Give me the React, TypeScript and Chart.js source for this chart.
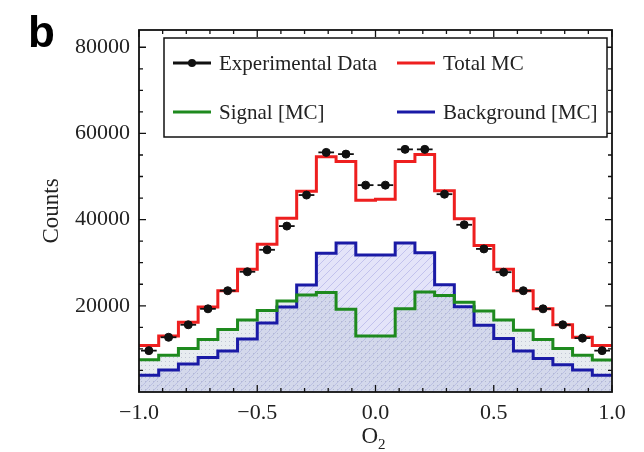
import React, { useEffect, useRef } from 'react';
import { Chart, registerables } from 'chart.js';
Chart.register(...registerables);

// 24 bins over O2 in [-1, 1]
const binEdges = [
  -1, -0.9167, -0.8333, -0.75, -0.6667, -0.5833, -0.5, -0.4167, -0.3333, -0.25, -0.1667, -0.0833,
  0, 0.0833, 0.1667, 0.25, 0.3333, 0.4167, 0.5, 0.5833, 0.6667, 0.75, 0.8333, 0.9167, 1,
];
const experimentalData = [9600, 12700, 15600, 19300, 23500, 27900, 33000, 38500, 45700, 55600, 55200, 48000,
  48000, 56300, 56300, 45900, 38800, 33200, 27800, 23500, 19300, 15600, 12500, 9600];
const totalMC = [10800, 13000, 16200, 19700, 23500, 28500, 34300, 40300, 46600, 54600, 53500, 44500,
  44700, 53500, 55100, 46700, 40200, 34000, 28500, 23500, 19300, 15600, 12700, 10800];
const signalMC = [7500, 8500, 10100, 12200, 14500, 16700, 18900, 21100, 22500, 23100, 19200, 13000,
  13000, 19300, 23200, 22400, 20800, 18800, 16700, 14300, 12200, 10100, 8500, 7400];
const backgroundMC = [3900, 5100, 6500, 8000, 9500, 12300, 16000, 19700, 24800, 32200, 34600, 31800,
  31800, 34600, 32300, 24900, 19800, 15500, 12400, 9500, 7800, 6300, 5100, 3900];

const xTickValues = [-1, -0.5, 0, 0.5, 1];
const yTickValues = [20000, 40000, 60000, 80000];
const legendLabels = ['Experimental Data', 'Total MC', 'Signal [MC]', 'Background [MC]'];

const SERIF = "'Liberation Serif', 'Times New Roman', serif";
const RED = '#ee1f1f';
const GREEN = '#1e8a1e';
const BLUE = '#1a1aa6';

function stepPoints(vals: number[]) {
  return binEdges.map((e, i) => ({ x: e, y: vals[Math.min(i, vals.length - 1)] }));
}

function makeHatch(): CanvasPattern | string {
  const c = document.createElement('canvas');
  c.width = 8; c.height = 8;
  const g = c.getContext('2d');
  if (!g) return '#e0e0f8';
  g.fillStyle = '#e4e4f9';
  g.fillRect(0, 0, 8, 8);
  g.strokeStyle = 'rgba(160,160,225,0.5)';
  g.lineWidth = 1;
  g.beginPath();
  g.moveTo(0, 8); g.lineTo(8, 0);
  g.moveTo(-2, 2); g.lineTo(2, -2);
  g.moveTo(6, 10); g.lineTo(10, 6);
  g.stroke();
  return g.createPattern(c, 'repeat') || '#e0e0f8';
}

function makeDots(): CanvasPattern | string {
  const c = document.createElement('canvas');
  c.width = 4; c.height = 4;
  const g = c.getContext('2d');
  if (!g) return 'rgba(150,170,190,0.3)';
  g.fillStyle = 'rgba(170,185,200,0.28)';
  g.fillRect(0, 0, 4, 4);
  g.fillStyle = 'rgba(120,130,160,0.35)';
  g.fillRect(1, 1, 1, 1);
  return g.createPattern(c, 'repeat') || 'rgba(150,170,190,0.3)';
}

const decorPlugin = {
  id: 'decor',
  afterDatasetsDraw(chart: any) {
    const { ctx, chartArea } = chart;
    const xs = chart.scales.x;
    const ys = chart.scales.y;
    const { left, right, top, bottom } = chartArea;
    ctx.save();
    // horizontal bin-width bars of data
    ctx.strokeStyle = '#111';
    ctx.lineWidth = 1.8;
    experimentalData.forEach((v, i) => {
      const y = ys.getPixelForValue(v);
      ctx.beginPath();
      ctx.moveTo(xs.getPixelForValue(binEdges[i]) + 2, y);
      ctx.lineTo(xs.getPixelForValue(binEdges[i + 1]) - 2, y);
      ctx.stroke();
    });
    // frame
    ctx.strokeStyle = '#111';
    ctx.lineWidth = 1.8;
    ctx.strokeRect(left, top, right - left, bottom - top);
    // inward ticks
    ctx.lineWidth = 1.3;
    for (let k = -10; k <= 10; k++) {
      const v = k / 10;
      const len = k % 5 === 0 ? 7 : 4;
      const px = xs.getPixelForValue(v);
      ctx.beginPath();
      ctx.moveTo(px, bottom); ctx.lineTo(px, bottom - len);
      ctx.moveTo(px, top); ctx.lineTo(px, top + len);
      ctx.stroke();
    }
    for (let v = 5000; v < ys.max; v += 5000) {
      const len = v % 20000 === 0 ? 7 : 4;
      const py = ys.getPixelForValue(v);
      ctx.beginPath();
      ctx.moveTo(left, py); ctx.lineTo(left + len, py);
      ctx.moveTo(right, py); ctx.lineTo(right - len, py);
      ctx.stroke();
    }
    // legend
    const lx = 164, ly = 38, lw = 443, lh = 99;
    ctx.fillStyle = '#fff';
    ctx.fillRect(lx, ly, lw, lh);
    ctx.strokeStyle = '#111';
    ctx.lineWidth = 1.5;
    ctx.strokeRect(lx, ly, lw, lh);
    const rows = [63, 112];
    const cols = [173, 397];
    const colors = ['#111', RED, GREEN, BLUE];
    ctx.font = `21px ${SERIF}`;
    ctx.textBaseline = 'middle';
    ctx.textAlign = 'left';
    legendLabels.forEach((lab, i) => {
      const cx = cols[i % 2];
      const cy = rows[Math.floor(i / 2)];
      ctx.strokeStyle = colors[i];
      ctx.lineWidth = 3;
      ctx.beginPath();
      ctx.moveTo(cx, cy); ctx.lineTo(cx + 38, cy);
      ctx.stroke();
      if (i === 0) {
        ctx.fillStyle = '#111';
        ctx.beginPath();
        ctx.arc(cx + 19, cy, 4, 0, Math.PI * 2);
        ctx.fill();
      }
      ctx.fillStyle = '#222';
      ctx.fillText(lab, cx + 46, cy + 1);
    });
    // axis titles
    ctx.fillStyle = '#222';
    ctx.save();
    ctx.translate(52, (top + bottom) / 2);
    ctx.rotate(-Math.PI / 2);
    ctx.textAlign = 'center';
    ctx.textBaseline = 'middle';
    ctx.font = `23px ${SERIF}`;
    ctx.fillText('Counts', 0, 0);
    ctx.restore();
    ctx.textBaseline = 'alphabetic';
    ctx.textAlign = 'left';
    ctx.font = `23px ${SERIF}`;
    const ow = ctx.measureText('O').width;
    ctx.font = `15px ${SERIF}`;
    const sw = ctx.measureText('2').width;
    const sx = xs.getPixelForValue(0) - (ow + sw) / 2 - 2;
    ctx.font = `23px ${SERIF}`;
    ctx.fillText('O', sx, 443);
    ctx.font = `15px ${SERIF}`;
    ctx.fillText('2', sx + ow, 449);
    // panel label
    ctx.font = `bold 44px 'Liberation Sans', Arial, sans-serif`;
    ctx.fillStyle = '#000';
    ctx.fillText('b', 28, 47);
    ctx.restore();
  },
};

export default function App() {
  const ref = useRef<HTMLCanvasElement>(null);
  useEffect(() => {
    if (!ref.current) return;
    const hatch = makeHatch();
    const dots = makeDots();
    const chart = new Chart(ref.current, {
      type: 'line',
      data: {
        datasets: [
          {
            label: legendLabels[0],
            data: experimentalData.map((v, i) => ({ x: (binEdges[i] + binEdges[i + 1]) / 2, y: v })),
            showLine: false,
            pointRadius: 4,
            pointBackgroundColor: '#111',
            pointBorderColor: '#111',
            borderColor: '#111',
          },
          {
            label: legendLabels[1],
            data: stepPoints(totalMC),
            stepped: 'before',
            borderColor: RED,
            borderWidth: 3,
            pointRadius: 0,
            fill: false,
          },
          {
            label: legendLabels[2],
            data: stepPoints(signalMC),
            stepped: 'before',
            borderColor: GREEN,
            borderWidth: 3,
            pointRadius: 0,
            fill: 'origin',
            backgroundColor: dots as any,
          },
          {
            label: legendLabels[3],
            data: stepPoints(backgroundMC),
            stepped: 'before',
            borderColor: BLUE,
            borderWidth: 3,
            pointRadius: 0,
            fill: 'origin',
            backgroundColor: hatch as any,
          },
        ],
      },
      options: {
        animation: false,
        responsive: false,
        devicePixelRatio: 1,
        layout: { padding: { top: 30, right: 32, left: 0, bottom: 0 } },
        plugins: {
          legend: { display: false },
          tooltip: { enabled: false },
          filler: { drawTime: 'beforeDatasetsDraw' },
        },
        scales: {
          x: {
            type: 'linear',
            min: -1,
            max: 1,
            grid: { display: false, drawTicks: false },
            border: { display: false },
            afterBuildTicks: (s: any) => { s.ticks = xTickValues.map((v) => ({ value: v })); },
            afterFit: (s: any) => { s.height = 60; },
            ticks: {
              padding: 8,
              maxRotation: 0,
              color: '#222',
              font: { family: SERIF, size: 22 },
              callback: (v: any) => (v < 0 ? '\u2212' : '') + Math.abs(Number(v)).toFixed(1),
            },
          },
          y: {
            type: 'linear',
            min: 0,
            max: 84000,
            grid: { display: false, drawTicks: false },
            border: { display: false },
            afterBuildTicks: (s: any) => { s.ticks = yTickValues.map((v) => ({ value: v })); },
            afterFit: (s: any) => { s.width = 139; },
            ticks: {
              padding: 9,
              color: '#222',
              font: { family: SERIF, size: 22 },
              callback: (v: any) => String(v),
            },
          },
        },
      },
      plugins: [decorPlugin],
    });
    return () => chart.destroy();
  }, []);
  return (
    <div style={{ position: 'absolute', left: 0, top: 0, width: 644, height: 452, background: '#fff' }}>
      <canvas ref={ref} width={644} height={452} style={{ display: 'block' }} />
    </div>
  );
}
